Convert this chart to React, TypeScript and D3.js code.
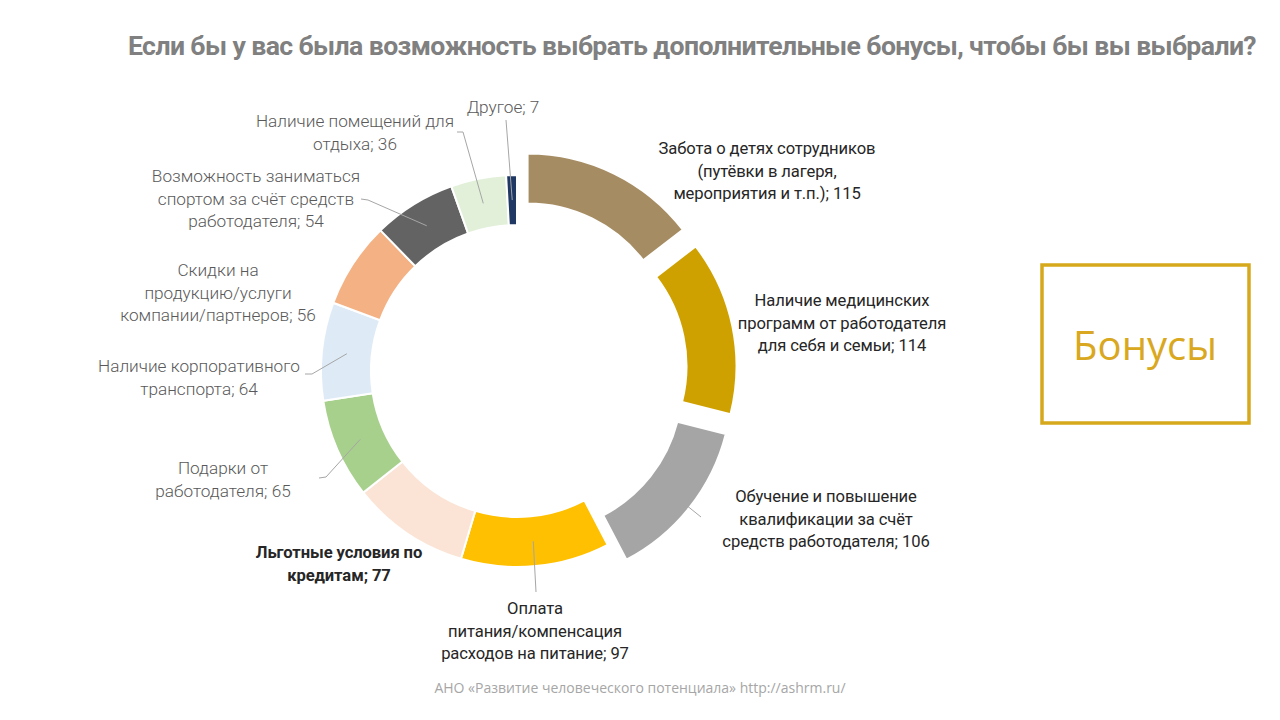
import React from "react";
import * as d3 from "d3";

// Ответы на вопрос о дополнительных бонусах (по часовой стрелке от 12 часов)
const categories = [
  "Забота о детях сотрудников (путёвки в лагеря, мероприятия и т.п.)",
  "Наличие медицинских программ от работодателя для себя и семьи",
  "Обучение и повышение квалификации за счёт средств работодателя",
  "Оплата питания/компенсация расходов на питание",
  "Льготные условия по кредитам",
  "Подарки от работодателя",
  "Наличие корпоративного транспорта",
  "Скидки на продукцию/услуги компании/партнеров",
  "Возможность заниматься спортом за счёт средств работодателя",
  "Наличие помещений для отдыха",
  "Другое",
];
const values = [115, 114, 106, 97, 77, 65, 64, 56, 54, 36, 7];

// как подписи разбиты на строки на слайде
const labelLines = [
  ["Забота о детях сотрудников", "(путёвки в лагеря,", "мероприятия и т.п.); 115"],
  ["Наличие медицинских", "программ от работодателя", "для себя и семьи; 114"],
  ["Обучение и повышение", "квалификации за счёт", "средств работодателя; 106"],
  ["Оплата", "питания/компенсация", "расходов на питание; 97"],
  ["Льготные условия по", "кредитам; 77"],
  ["Подарки от", "работодателя; 65"],
  ["Наличие корпоративного", "транспорта; 64"],
  ["Скидки на", "продукцию/услуги", "компании/партнеров; 56"],
  ["Возможность заниматься", "спортом за счёт средств", "работодателя; 54"],
  ["Наличие помещений для", "отдыха; 36"],
  ["Другое; 7"],
];

const colors = [
  "#a68c62", "#cfa100", "#a5a5a5", "#fec000", "#fbe4d5", "#a8d08d",
  "#deebf7", "#f4b183", "#636363", "#e2f0d9", "#203864",
];
const exploded = [true, true, true, false, false, false, false, false, false, false, false];

// ручная раскладка подписей: центр текста, базовая линия первой строки, излом выноски
const labelLayout: { x: number; y: number; style: string; leader?: [number, number][] }[] = [
  { x: 767, y: 154, style: "dark" },
  { x: 842, y: 306, style: "dark" },
  { x: 826, y: 502, style: "dark", leader: [[701, 517]] },
  { x: 535, y: 614, style: "dark", leader: [[536, 592]] },
  { x: 339, y: 558, style: "bold" },
  { x: 223, y: 474, style: "light", leader: [[326, 477], [319, 478]] },
  { x: 199, y: 372, style: "light", leader: [[312, 374], [305, 374]] },
  { x: 218, y: 276, style: "light" },
  { x: 256, y: 182, style: "light", leader: [[368, 200], [361, 199]] },
  { x: 355, y: 127, style: "light", leader: [[463, 132], [457, 132]] },
  { x: 503, y: 113, style: "light", leader: [[506, 120]] },
];

const cx = 517;
const cy = 371;
const outerR = 196;
const innerR = 146;
const explode = 24;

export default function App() {
  const pie = d3.pie<number>().sort(null).startAngle(0).endAngle(2 * Math.PI);
  const slices = pie(values);
  const arc = d3.arc<d3.PieArcDatum<number>>().innerRadius(innerR).outerRadius(outerR);
  const mid = d3.arc<d3.PieArcDatum<number>>().innerRadius((innerR + outerR) / 2).outerRadius((innerR + outerR) / 2);

  const shift = (d: d3.PieArcDatum<number>, i: number) => {
    if (!exploded[i]) return [0, 0];
    const a = (d.startAngle + d.endAngle) / 2;
    return [explode * Math.sin(a), -explode * Math.cos(a)];
  };

  const line = d3.line();
  const lineH = 22.5;

  return (
    <svg width={1280} height={720} style={{ position: "absolute", left: 0, top: 0, background: "#fff" }}>
      <text
        x={128}
        y={55}
        textLength={1128}
        lengthAdjust="spacingAndGlyphs"
        fontFamily="Roboto, sans-serif"
        fontWeight={700}
        fontSize={26}
        letterSpacing={-0.6}
        fill="#808080"
      >
        Если бы у вас была возможность выбрать дополнительные бонусы, чтобы бы вы выбрали?
      </text>

      <g transform={`translate(${cx},${cy})`}>
        {slices.map((d, i) => {
          const [dx, dy] = shift(d, i);
          return (
            <path
              key={categories[i]}
              d={arc(d) || ""}
              transform={`translate(${dx},${dy})`}
              fill={colors[i]}
              stroke="#fff"
              strokeWidth={2}
            />
          );
        })}
      </g>

      {slices.map((d, i) => {
        const lay = labelLayout[i];
        if (!lay.leader) return null;
        const [dx, dy] = shift(d, i);
        const [mx, my] = mid.centroid(d);
        const pts: [number, number][] = [[cx + mx + dx, cy + my + dy], ...lay.leader];
        return (
          <path key={"l" + i} d={line(pts) || ""} fill="none" stroke="#a6a6a6" strokeWidth={1} />
        );
      })}

      {labelLines.map((lines, i) => {
        const lay = labelLayout[i];
        const light = lay.style === "light";
        const bold = lay.style === "bold";
        return (
          <text
            key={"t" + i}
            x={lay.x}
            y={lay.y}
            textAnchor="middle"
            fontFamily="Roboto, 'Noto Sans', sans-serif"
            fontSize={light ? 17.2 : 16.6}
            fontWeight={bold ? 700 : light ? 300 : 400}
            letterSpacing={light ? 0 : -0.1}
            fill={light ? "#595959" : "#262626"}
          >
            {lines.map((s, j) => (
              <tspan key={j} x={lay.x} dy={j === 0 ? 0 : lineH}>
                {s}
              </tspan>
            ))}
          </text>
        );
      })}

      <rect x={1042} y={265} width={207} height={158} fill="none" stroke="#d6a91c" strokeWidth={3.5} />
      <text x={1145} y={360} textAnchor="middle" fontFamily="'Open Sans', sans-serif" fontSize={40} fill="#d9a820">
        Бонусы
      </text>

      <text x={640} y={693} textAnchor="middle" fontFamily="'Open Sans', sans-serif" fontSize={14} fill="#a6a6a6">
        АНО «Развитие человеческого потенциала» http://ashrm.ru/
      </text>
    </svg>
  );
}
